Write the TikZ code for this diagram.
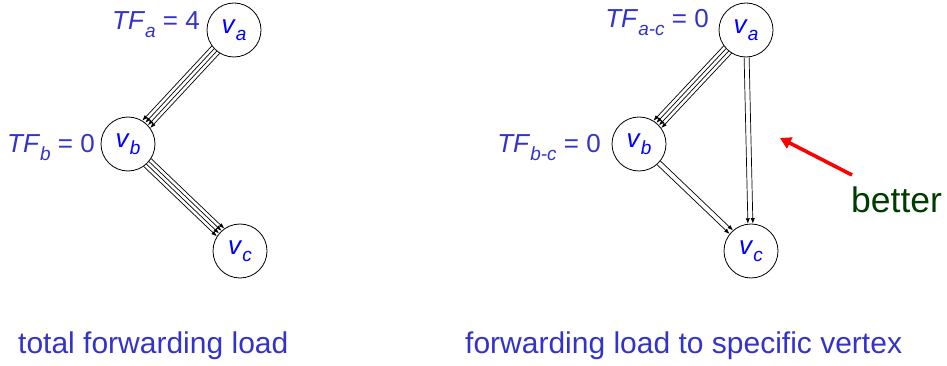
\documentclass[tikz,border=0pt]{standalone}
\usepackage{fontspec}
\setmainfont{Liberation Sans}
\usetikzlibrary{calc,arrows.meta}
\definecolor{lblblue}{RGB}{51,51,204}
\definecolor{vblue}{RGB}{0,0,255}
\definecolor{darkgreen}{RGB}{0,60,0}
\newcommand\mysub[1]{\raisebox{-0.27em}{\fontsize{19}{19}\selectfont\itshape #1}}
\newcommand\multiarrow[3]{%
  \foreach \d in {#3} {%
    \pgfmathsetmacro\s{sqrt(27.4*27.4-(\d)*(\d))}%
    \draw[flow, shorten <=\s pt, shorten >=\s pt]
      ($(#1)!\d!90:(#2)$) -- ($(#2)!\d!-90:(#1)$);
  }}
\begin{document}
\begin{tikzpicture}[x=1pt,y=-1pt,
  vertex/.style={circle,draw,line width=0.8pt,minimum size=54pt,inner sep=0pt,
    text=vblue,font=\fontsize{26}{26}\selectfont},
  tflabel/.style={anchor=base east,inner sep=0pt,text=lblblue,font=\fontsize{26}{26}\selectfont},
  caption/.style={anchor=base west,inner sep=0pt,text=lblblue,font=\fontsize{30}{30}\selectfont},
  flow/.style={line width=0.7pt,-{Latex[length=5.5pt,width=4.2pt]}},
  redarrow/.style={draw=red,line width=3.6pt,-{Triangle[length=11pt,width=12pt]}}]
\useasboundingbox (0,0) rectangle (947,366);
% left graph
\node[vertex] (La) at (234,30) {\textit{v}\mysub{a}};
\node[vertex] (Lb) at (128,144) {\textit{v}\mysub{b}};
\node[vertex] (Lc) at (240,251) {\textit{v}\mysub{c}};
\node[tflabel] (tfa) at (200,30) {\textit{TF}\mysub{a} = 4};
\node[tflabel] (tfb) at (95,153) {\textit{TF}\mysub{b} = 0};
\multiarrow{La}{Lb}{-5.4pt,-1.8pt,1.8pt,5.4pt}
\multiarrow{Lb}{Lc}{-5.4pt,-1.8pt,1.8pt,5.4pt}
% right graph
\node[vertex] (Ra) at (746,30) {\textit{v}\mysub{a}};
\node[vertex] (Rb) at (639,144) {\textit{v}\mysub{b}};
\node[vertex] (Rc) at (751,251) {\textit{v}\mysub{c}};
\node[tflabel] (tfac) at (709,28) {\textit{TF}\mysub{a-c} = 0};
\node[tflabel] (tfbc) at (601,153) {\textit{TF}\mysub{b-c} = 0};
\multiarrow{Ra}{Rb}{-5.4pt,-1.8pt,1.8pt,5.4pt}
\multiarrow{Ra}{Rc}{-2.5pt,2.5pt}
\multiarrow{Rb}{Rc}{-2.5pt,2.5pt}
% better
\coordinate (redtail) at (852,175);
\coordinate (redhead) at (780,138);
\draw[redarrow] (redtail) -- (redhead);
\node[anchor=base west,inner sep=0pt,text=darkgreen,font=\fontsize{35.5}{35.5}\selectfont] (better) at (851,212) {better};
% captions
\node[caption] (cap1) at (18,353) {total forwarding load};
\node[caption] (cap2) at (465,353) {forwarding load to specific vertex};
\end{tikzpicture}
\end{document}
